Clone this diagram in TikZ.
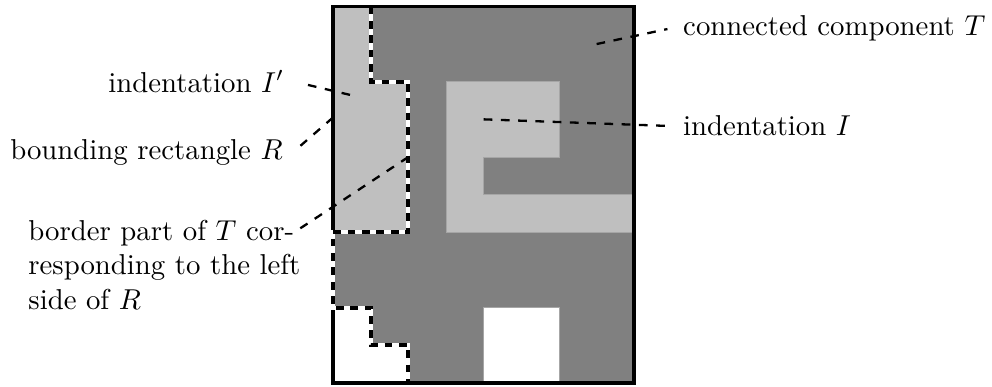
\documentclass[tikz,border=0pt]{standalone}
\usepackage{tikz}

\begin{document}
\begin{tikzpicture}[x=0.46cm, y=0.46cm,
    % Styles
    region/.style={draw=black!35, line width=0.3pt},
    dark/.style={fill=black!50},
    light/.style={region, fill=black!25},
    hole/.style={region, fill=white},
    frame/.style={draw=black, line width=1.3pt},
    seam/.style={
        draw=white,
        line width=1.4pt,
        postaction={draw=black, dash pattern=on 2.7pt off 2.3pt}
    },
    lead/.style={
        dashed,
        thick,
        shorten >=2pt
    },
    txt/.style={font=\normalsize}
]

\useasboundingbox (-8.845,-0.106) rectangle (17.5,10.17);

% Connected component T
\fill[dark] (0,0) rectangle (8,10);

% Indentation I'
\path[light] (0,10) -- (1,10) -- (1,8) -- (2,8) -- (2,4) -- (0,4) -- cycle;

% White cells
\path[hole] (0,2) -- (1,2) -- (1,1) -- (2,1) -- (2,0) -- (0,0) -- cycle;
\path[hole] (4,0) rectangle (6,2);

% Indentation I
\path[light] (3,8) -- (6,8) -- (6,6) -- (4,6) -- (4,5) -- (8,5) -- (8,4) -- (3,4) -- cycle;

% Frame
\draw[frame] (0,0) rectangle (8,10);

% Border part of T for the left side of R
\draw[seam] (1,10) -- (1,8) -- (2,8) -- (2,4) -- (0,4) -- (0,2) -- (1,2) -- (1,1) -- (2,1) -- (2,0);

% Labels
\node[txt, anchor=west] (ccT) at (9.03,9.43) {connected component $T$};
\node[txt, anchor=west] (indI) at (9.03,6.82) {indentation $I$};
\node[txt, anchor=east] (indIp) at (-1.03,8.0) {indentation $I'$};
\node[txt, anchor=east] (bndR) at (-1.07,6.12) {bounding rectangle $R$};
\node[txt, anchor=north west, align=left] (brd) at (-8.36,4.6) {
    border part of $T$ cor-\\
    responding to the left\\
    side of $R$
};

% Points in the picture
\coordinate (pT) at (7,9);
\coordinate (pI) at (4,7);
\coordinate (pIp) at (0.45,7.65);
\coordinate (pR) at (0,7.05);
\coordinate (pB) at (2,6);
\coordinate (brdtip) at (-1.0,4.02);

% Connectors
\draw[lead] (pT) -- (ccT.west);
\draw[lead] (pI) -- (indI.west);
\draw[lead] (pIp) -- (indIp.east);
\draw[lead] (pR) -- (bndR.east);
\draw[lead] (pB) -- (brdtip);

\end{tikzpicture}
\end{document}
